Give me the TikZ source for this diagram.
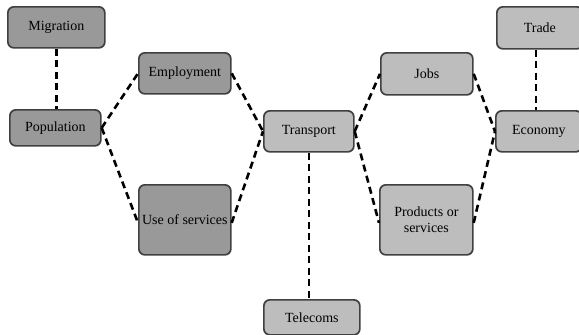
\documentclass[tikz,border=0pt]{standalone}
\usepackage{fontspec}
\setmainfont{Liberation Serif}
\begin{document}
\begin{tikzpicture}[x=1pt,y=-1pt,
  box/.style={draw=black!75, line width=1.7pt, rounded corners=6pt, inner sep=0pt,
    font=\fontsize{14}{15.5}\selectfont, align=center, anchor=north west},
  darkbox/.style={box, fill=black!40},
  lightbox/.style={box, fill=black!26},
  link/.style={line width=2.6pt, dash pattern=on 7pt off 4.5pt}]
\useasboundingbox (0,0) rectangle (579,335);
\clip (0,0) rectangle (579,335);
% boxes: position is the top-left corner, size in minimum width/height
\node[darkbox, minimum width=97pt, minimum height=41pt] (migration) at (7,6) {Migration};
\node[darkbox, minimum width=91pt, minimum height=36pt] (population) at (9,109) {Population};
\node[darkbox, minimum width=92pt, minimum height=41pt] (employment) at (138,52) {Employment};
\node[darkbox, minimum width=92pt, minimum height=70pt] (services) at (138,184) {Use of services};
\node[lightbox, minimum width=90pt, minimum height=41pt] (transport) at (263,110) {Transport};
\node[lightbox, minimum width=96pt, minimum height=35pt] (telecoms) at (263,299) {Telecoms};
\node[lightbox, minimum width=92pt, minimum height=42pt] (jobs) at (380,52) {Jobs};
\node[lightbox, minimum width=93pt, minimum height=70pt] (products) at (379,184) {Products or\\services};
\node[lightbox, minimum width=86pt, minimum height=42pt] (trade) at (496,6) {Trade};
\node[lightbox, minimum width=86pt, minimum height=41pt] (economy) at (495,110) {Economy};
% dashed links
\draw[link] (migration.south) -- (population.north -| migration.south);
\draw[link] (population.east) -- (employment.west);
\draw[link] (population.east) -- ([yshift=-3pt]services.west);
\draw[link] (employment.east) -- (transport.west);
\draw[link] ([yshift=-3pt]services.east) -- (transport.west);
\draw[link] (transport.south) -- (telecoms.north -| transport.south);
\draw[link] (transport.east) -- (jobs.west);
\draw[link] (transport.east) -- ([yshift=-3pt]products.west);
\draw[link] (jobs.east) -- (economy.west);
\draw[link] ([yshift=-3pt]products.east) -- (economy.west);
\draw[link] ([xshift=-4pt]trade.south) -- ([xshift=-3pt]economy.north);
\end{tikzpicture}
\end{document}
